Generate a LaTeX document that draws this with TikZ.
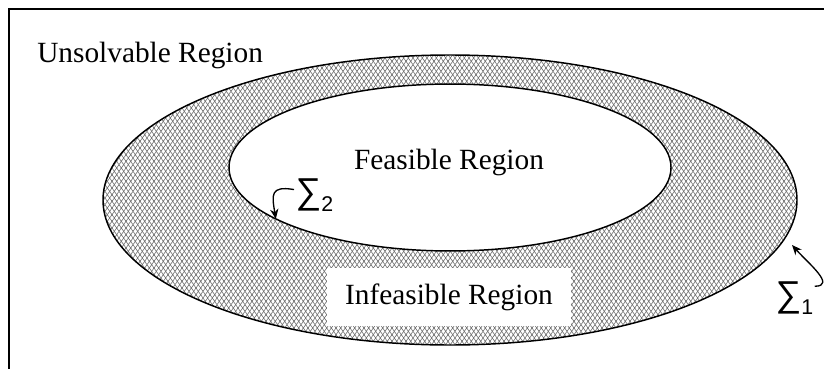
\documentclass[tikz,border=0pt]{standalone}
\usepackage{fontspec}
\setmainfont{Liberation Serif}
\newfontfamily\sigfont{Liberation Sans}
\usetikzlibrary{arrows.meta,patterns,calc}
\pgfdeclarepatternformonly{mesh}{\pgfpoint{-0.5pt}{-0.5pt}}{\pgfpoint{4pt}{5.5pt}}{\pgfpoint{3.5pt}{5pt}}{%
  \pgfsetlinewidth{0.45pt}%
  \pgfpathmoveto{\pgfpoint{-0.35pt}{-0.5pt}}\pgfpathlineto{\pgfpoint{3.85pt}{5.5pt}}%
  \pgfpathmoveto{\pgfpoint{-0.35pt}{5.5pt}}\pgfpathlineto{\pgfpoint{3.85pt}{-0.5pt}}%
  \pgfusepath{stroke}}
\tikzset{
  region/.style ={draw,line width=1.1pt},
  txt/.style    ={font=\fontsize{22}{26}\selectfont,inner sep=0pt},
  sig/.style    ={font=\sigfont\fontsize{27}{30}\selectfont,inner sep=1pt},
  curl/.style   ={-{Stealth[length=2.6mm,width=2.2mm]},line width=1pt}
}
\begin{document}
\begin{tikzpicture}[x=0.75pt,y=-0.75pt]
  \useasboundingbox (0,0) rectangle (824,368);
  \clip (0,0) rectangle (824,368);
  \draw[line width=1pt] (9,9) rectangle (840,380);
  % regions
  \coordinate (oc) at (450,200);
  \coordinate (ic) at (450,167.5);
  \fill[pattern=mesh,pattern color=black!55] (oc) ellipse [x radius=260.25pt,y radius=108.75pt];
  \draw[region] (oc) ellipse [x radius=260.25pt,y radius=108.75pt];
  \draw[region,fill=white] (ic) ellipse [x radius=165.75pt,y radius=62.6pt];
  % labels
  \node[txt,anchor=base west] (unsolv) at (37,62) {Unsolvable Region};
  \node[txt] (feas) at (449,162) {Feasible Region};
  \node[txt,fill=white,minimum width=183pt,minimum height=44pt] (infeas) at (449,297) {Infeasible Region};
  \node[sig,anchor=west] (s2) at (294,195) {∑\raisebox{-0.4ex}{\fontsize{16}{18}\selectfont 2}};
  \node[sig,anchor=west] (s1) at (774,298) {∑\raisebox{-0.4ex}{\fontsize{16}{18}\selectfont 1}};
  % arrows
  \coordinate (t2) at ($(ic)+(218:165.75pt and 62.6pt)$);
  \coordinate (t1) at (792,245);
  \draw[curl] (s2.165) .. controls +(-24,-4) and +(-4,-24) .. (t2);
  \draw[curl] (s1.30) .. controls +(22,0) and +(16,18) .. (t1);
\end{tikzpicture}
\end{document}
